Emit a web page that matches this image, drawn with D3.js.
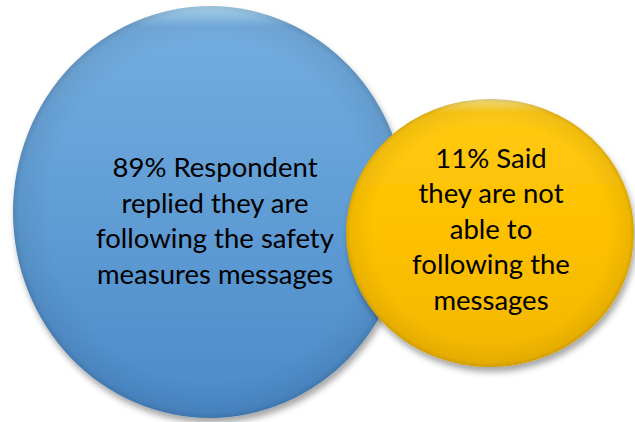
<!DOCTYPE html>
<html>
<head>
<meta charset="utf-8">
<script src="https://cdn.jsdelivr.net/npm/d3@7"></script>
<style>
  html, body { margin: 0; padding: 0; background: #fff; }
  svg { display: block; }
</style>
</head>
<body>
<div id="chart"></div>
<script>
const categories = ["following", "notFollowing"];
const values = [89, 11];
const labels = [
  ["89% Respondent", "replied they are", "following the safety", "measures messages"],
  ["11% Said", "they are not", "able to", "following the", "messages"]
];

const width = 635, height = 422;

const svg = d3.select("#chart")
  .append("svg")
  .attr("width", width)
  .attr("height", height);

const defs = svg.append("defs");

// soft drop shadow under each bubble
const shadow = defs.append("filter")
  .attr("id", "shadow")
  .attr("x", "-20%").attr("y", "-20%")
  .attr("width", "140%").attr("height", "140%");
shadow.append("feDropShadow")
  .attr("dx", 2).attr("dy", 5)
  .attr("stdDeviation", 3)
  .attr("flood-color", "#000")
  .attr("flood-opacity", 0.35);

const palettes = {
  following: ["#b4e0fb", "#74addf", "#629fd6", "#4b89c9"],
  notFollowing: ["#ffe88a", "#ffc914", "#fec200", "#f2b600"]
};

categories.forEach((c) => {
  const p = palettes[c];
  const g = defs.append("linearGradient")
    .attr("id", "fill-" + c)
    .attr("x1", 0).attr("y1", 0).attr("x2", 0).attr("y2", 1);
  g.append("stop").attr("offset", "0%").attr("stop-color", p[0]);
  g.append("stop").attr("offset", "5%").attr("stop-color", p[1]);
  g.append("stop").attr("offset", "45%").attr("stop-color", p[2]);
  g.append("stop").attr("offset", "100%").attr("stop-color", p[3]);
});

// edge darkening for the rounded look
const rim = defs.append("radialGradient").attr("id", "rim");
rim.append("stop").attr("offset", "82%").attr("stop-color", "#000").attr("stop-opacity", 0);
rim.append("stop").attr("offset", "97%").attr("stop-color", "#000").attr("stop-opacity", 0.06);
rim.append("stop").attr("offset", "100%").attr("stop-color", "#000").attr("stop-opacity", 0.15);

// layout scales
const x = d3.scalePoint().domain(categories).range([210, 490]);
const y = d3.scaleOrdinal().domain(categories).range([212, 233]);
const rx = d3.scaleLinear().domain([11, 89]).range([144, 197]);
const ry = d3.scaleLinear().domain([11, 89]).range([134, 206]);

const data = categories.map((c, i) => ({ key: c, value: values[i], lines: labels[i] }));

const bubble = svg.selectAll("g.bubble")
  .data(data)
  .enter()
  .append("g")
  .attr("class", "bubble");

bubble.append("ellipse")
  .attr("cx", (d) => x(d.key))
  .attr("cy", (d) => y(d.key))
  .attr("rx", (d) => rx(d.value))
  .attr("ry", (d) => ry(d.value))
  .attr("fill", (d) => "url(#fill-" + d.key + ")")
  .attr("filter", "url(#shadow)");

bubble.append("ellipse")
  .attr("cx", (d) => x(d.key))
  .attr("cy", (d) => y(d.key))
  .attr("rx", (d) => rx(d.value))
  .attr("ry", (d) => ry(d.value))
  .attr("fill", "url(#rim)");

const lineH = 35.5;
const textOffset = { following: 9, notFollowing: -4 };

bubble.append("text")
  .attr("text-anchor", "middle")
  .attr("font-family", "Lato, 'Open Sans', sans-serif")
  .attr("font-size", 27.5)
  .attr("fill", "#000")
  .each(function (d) {
    const n = d.lines.length;
    const cy = y(d.key) + textOffset[d.key];
    d3.select(this).selectAll("tspan")
      .data(d.lines)
      .enter()
      .append("tspan")
      .attr("x", x(d.key) + (d.key === "following" ? 5 : 1))
      .attr("y", (l, i) => cy + (i - (n - 1) / 2) * lineH)
      .attr("dy", "0.35em")
      .text((l) => l);
  });
</script>
</body>
</html>
